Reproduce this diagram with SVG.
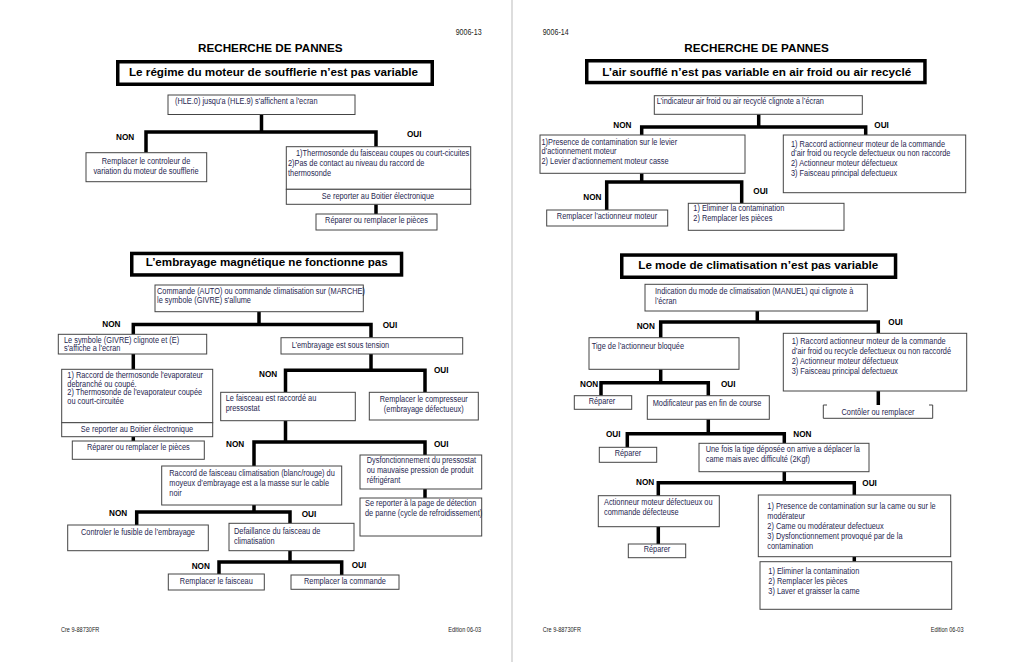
<svg xmlns="http://www.w3.org/2000/svg" width="1024" height="662" viewBox="0 0 1024 662">
<style>
.bg{fill:#fff}
.tb{fill:#fff;stroke:#000;stroke-width:3.5}
.b{fill:#fff;stroke:#444;stroke-width:1}
.c{fill:none;stroke:#000;stroke-width:3.5;stroke-linejoin:miter}
.h{font-family:"Liberation Sans",Arial,sans-serif;font-weight:bold;font-size:11.7px;fill:#000}
.t{font-family:"Liberation Sans",Arial,sans-serif;font-weight:bold;font-size:11.6px;fill:#000}
.x{font-family:"Liberation Sans",Arial,sans-serif;font-size:9px;fill:#262650}
.m{text-anchor:middle}
.l{font-family:"Liberation Sans",Arial,sans-serif;font-weight:bold;font-size:8.2px;fill:#000}
.f{font-family:"Liberation Sans",Arial,sans-serif;font-size:6.8px;fill:#222}
.p{font-family:"Liberation Sans",Arial,sans-serif;font-size:8.6px;fill:#222}
</style>
<rect class="bg" x="0" y="0" width="1024" height="662"/>
<line x1="512" y1="0" x2="512" y2="662" stroke="#bbb" stroke-width="1"/>

<g id="page-left-header">
<text class="p" x="455.7" y="35" transform="matrix(.82 0 0 1 82.026 0)">9006-13</text>
<text class="h" x="198" y="52">RECHERCHE DE PANNES</text>
</g>
<g id="page-right-header">
<text class="p" x="542.7" y="35" transform="matrix(.82 0 0 1 97.686 0)">9006-14</text>
<text class="h" x="684.3" y="52.3">RECHERCHE DE PANNES</text>
</g>
<g id="footers">
<text class="f" x="61" y="632.3" transform="matrix(.82 0 0 1 10.98 0)">Cre 9-88730FR</text>
<text class="f" x="448.3" y="632.3" transform="matrix(.82 0 0 1 80.694 0)">Edition 06-03</text>
<text class="f" x="542.7" y="632.3" transform="matrix(.82 0 0 1 97.686 0)">Cre 9-88730FR</text>
<text class="f" x="930.7" y="632.3" transform="matrix(.82 0 0 1 167.526 0)">Edition 06-03</text>
</g>

<g id="connectors">
<path class="c" d="M261.5 114V132M146 152.7V132H376V146.7"/>
<path class="c" d="M376 204.3V214"/>
<path class="c" d="M259 311.7V324.5M133.3 334.3V324.5H371V337.7"/>
<path class="c" d="M133.3 354V369.3M133.3 436.7V441"/>
<path class="c" d="M371 354V370.3M285.5 392.3V370.3H425V392.3"/>
<path class="c" d="M285.5 420.7V442M254 466V442H425V455"/>
<path class="c" d="M425 489V498"/>
<path class="c" d="M254 505V512M136.7 525V512H290V523.3"/>
<path class="c" d="M290 550.7V562M219 574V562H341.7V575"/>
<path class="c" d="M758.7 114.3V127M641.7 135V127H865.7V135"/>
<path class="c" d="M641.7 173.3V182M606.7 210V182H741.7V203.3"/>
<path class="c" d="M757.3 311V322M660.7 337.7V322H878.3V333.3"/>
<path class="c" d="M878.3 391V405"/>
<path class="c" d="M660.7 369.3V382.7M601 395.7V382.7H708.3V395.7"/>
<path class="c" d="M708.3 419.3V433.7M627.3 447.3V433.7H784.3V443.3"/>
<path class="c" d="M784.3 471.7V482.7M658.3 495.7V482.7H854.3V495"/>
<path class="c" d="M658.3 526.7V544"/>
<path class="c" d="M854.3 556.7V561.7"/>
</g>

<g id="labels">
<text class="l" x="116" y="140">NON</text>
<text class="l" x="407" y="137">OUI</text>
<text class="l" x="102.3" y="327.3">NON</text>
<text class="l" x="382.7" y="327.7">OUI</text>
<text class="l" x="259" y="376.7">NON</text>
<text class="l" x="434" y="373.3">OUI</text>
<text class="l" x="226" y="446.7">NON</text>
<text class="l" x="434" y="447.3">OUI</text>
<text class="l" x="109" y="515.7">NON</text>
<text class="l" x="301.7" y="517.3">OUI</text>
<text class="l" x="191.7" y="569.3">NON</text>
<text class="l" x="351.7" y="568.3">OUI</text>
<text class="l" x="613.3" y="128.3">NON</text>
<text class="l" x="874.3" y="128.3">OUI</text>
<text class="l" x="583.3" y="200">NON</text>
<text class="l" x="753.3" y="194.3">OUI</text>
<text class="l" x="636.7" y="329">NON</text>
<text class="l" x="888.3" y="325">OUI</text>
<text class="l" x="580" y="386.7">NON</text>
<text class="l" x="721" y="386.7">OUI</text>
<text class="l" x="606" y="436.7">OUI</text>
<text class="l" x="793.3" y="436.7">NON</text>
<text class="l" x="636" y="485">NON</text>
<text class="l" x="862.3" y="486">OUI</text>
</g>

<g id="title1">
<rect class="tb" x="117.75" y="61.75" width="314.5" height="22.5"/>
<text class="t" x="129" y="75.7" textLength="289" lengthAdjust="spacingAndGlyphs">Le régime du moteur de soufflerie n’est pas variable</text>
</g>
<g id="n-hle">
<rect class="b" x="168" y="95" width="187" height="19.5"/>
<text class="x" x="175" y="104.5" transform="matrix(.82 0 0 1 31.5 0)">(HLE.0) jusqu'a (HLE.9) s'affichent a l'ecran</text>
</g>
<g id="n-remplacer-controleur">
<rect class="b" x="86" y="152.7" width="120.7" height="29"/>
<text class="x m" x="146" y="164" transform="matrix(.82 0 0 1 26.28 0)">Remplacer le controleur de</text>
<text class="x m" x="146" y="174" transform="matrix(.82 0 0 1 26.28 0)">variation du moteur de soufflerie</text>
</g>
<g id="n-thermosonde">
<rect class="b" x="286.3" y="146.7" width="184.4" height="42.6"/>
<rect class="b" x="286.3" y="189.3" width="184.4" height="15"/>
<text class="x" x="296" y="156" transform="matrix(.82 0 0 1 53.28 0)">1)Thermosonde du faisceau coupes ou court-cicuites</text>
<text class="x" x="288" y="166" transform="matrix(.82 0 0 1 51.84 0)">2)Pas de contact au niveau du raccord de</text>
<text class="x" x="288" y="176" transform="matrix(.82 0 0 1 51.84 0)">thermosonde</text>
<text class="x m" x="378" y="199" transform="matrix(.82 0 0 1 68.04 0)">Se reporter au Boitier électronique</text>
</g>
<g id="n-reparer1">
<rect class="b" x="316" y="214" width="121" height="16"/>
<text class="x m" x="376.5" y="223.5" transform="matrix(.82 0 0 1 67.77 0)">Réparer ou remplacer le pièces</text>
</g>

<g id="title2">
<rect class="tb" x="131.75" y="253.45" width="269.8" height="21.5"/>
<text class="t" x="145.7" y="266.3" textLength="242" lengthAdjust="spacingAndGlyphs">L’embrayage magnétique ne fonctionne pas</text>
</g>
<g id="n-commande">
<rect class="b" x="155" y="285" width="208.3" height="26.7"/>
<text class="x" x="157" y="294" transform="matrix(.82 0 0 1 28.26 0)">Commande (AUTO) ou commande climatisation sur (MARCHE)</text>
<text class="x" x="157" y="303" transform="matrix(.82 0 0 1 28.26 0)">le symbole (GIVRE) s'allume</text>
</g>
<g id="n-symbole">
<rect class="b" x="58.3" y="334.3" width="148.4" height="19.7"/>
<text class="x" x="64" y="343" transform="matrix(.82 0 0 1 11.52 0)">Le symbole (GIVRE) clignote et (E)</text>
<text class="x" x="64" y="351.5" transform="matrix(.82 0 0 1 11.52 0)">s'affiche a l'ecran</text>
</g>
<g id="n-raccord-thermo">
<rect class="b" x="61.7" y="369.3" width="151" height="53.4"/>
<rect class="b" x="61.7" y="422.7" width="151" height="14"/>
<text class="x" x="67.3" y="378" transform="matrix(.82 0 0 1 12.114 0)">1) Raccord de thermosonde l'evaporateur</text>
<text class="x" x="67.3" y="386.7" transform="matrix(.82 0 0 1 12.114 0)">debranché ou coupé.</text>
<text class="x" x="67.3" y="395.3" transform="matrix(.82 0 0 1 12.114 0)">2) Thermosonde de l'evaporateur coupée</text>
<text class="x" x="67.3" y="404" transform="matrix(.82 0 0 1 12.114 0)">ou court-circuitée</text>
<text class="x m" x="137" y="432" transform="matrix(.82 0 0 1 24.66 0)">Se reporter au Boitier électronique</text>
</g>
<g id="n-reparer2">
<rect class="b" x="72.3" y="441" width="132" height="18.3"/>
<text class="x m" x="138.3" y="450" transform="matrix(.82 0 0 1 24.894 0)">Réparer ou remplacer le pièces</text>
</g>
<g id="n-tension">
<rect class="b" x="281" y="337.7" width="181.7" height="16.3"/>
<text class="x" x="291.7" y="348" transform="matrix(.82 0 0 1 52.506 0)">L’embrayage est sous tension</text>
</g>
<g id="n-faisceau-pressostat">
<rect class="b" x="220.7" y="392.3" width="134.6" height="28.4"/>
<text class="x" x="225.7" y="401" transform="matrix(.82 0 0 1 40.626 0)">Le faisceau est raccordé au</text>
<text class="x" x="225.7" y="411" transform="matrix(.82 0 0 1 40.626 0)">pressostat</text>
</g>
<g id="n-compresseur">
<rect class="b" x="369.3" y="392.3" width="109" height="27.7"/>
<text class="x m" x="423.8" y="402" transform="matrix(.82 0 0 1 76.284 0)">Remplacer le compresseur</text>
<text class="x m" x="423.8" y="412" transform="matrix(.82 0 0 1 76.284 0)">(embrayage défectueux)</text>
</g>
<g id="n-raccord-faisceau">
<rect class="b" x="161.7" y="466" width="180" height="39"/>
<text class="x" x="169.3" y="476" transform="matrix(.82 0 0 1 30.474 0)">Raccord de faisceau climatisation (blanc/rouge) du</text>
<text class="x" x="169.3" y="486" transform="matrix(.82 0 0 1 30.474 0)">moyeux d’embrayage est a la masse sur le cable</text>
<text class="x" x="169.3" y="496" transform="matrix(.82 0 0 1 30.474 0)">noir</text>
</g>
<g id="n-dysfonction">
<rect class="b" x="360" y="455" width="121.7" height="34"/>
<text class="x" x="366.7" y="463.5" transform="matrix(.82 0 0 1 66.006 0)">Dysfonctionnement du pressostat</text>
<text class="x" x="366.7" y="473.5" transform="matrix(.82 0 0 1 66.006 0)">ou mauvaise pression de produit</text>
<text class="x" x="366.7" y="483.5" transform="matrix(.82 0 0 1 66.006 0)">réfrigérant</text>
</g>
<g id="n-se-reporter-page">
<rect class="b" x="360" y="498" width="121.7" height="38"/>
<text class="x" x="365" y="506" transform="matrix(.82 0 0 1 65.7 0)">Se reporter à la page de détection</text>
<text class="x" x="365" y="516" transform="matrix(.82 0 0 1 65.7 0)">de panne (cycle de refroidissement)</text>
</g>
<g id="n-fusible">
<rect class="b" x="67.7" y="525" width="140.6" height="25.7"/>
<text class="x m" x="138" y="535" transform="matrix(.82 0 0 1 24.84 0)">Controler le fusible de l’embrayage</text>
</g>
<g id="n-defaillance">
<rect class="b" x="229" y="523.3" width="125" height="27.4"/>
<text class="x" x="234" y="534" transform="matrix(.82 0 0 1 42.12 0)">Defaillance du faisceau de</text>
<text class="x" x="234" y="544" transform="matrix(.82 0 0 1 42.12 0)">climatisation</text>
</g>
<g id="n-remplacer-faisceau">
<rect class="b" x="168.3" y="574" width="96" height="16"/>
<text class="x m" x="216.3" y="584.5" transform="matrix(.82 0 0 1 38.934 0)">Remplacer le faisceau</text>
</g>
<g id="n-remplacer-commande">
<rect class="b" x="291" y="575" width="108" height="14.3"/>
<text class="x m" x="345" y="584.5" transform="matrix(.82 0 0 1 62.1 0)">Remplacer la commande</text>
</g>

<g id="title3">
<rect class="tb" x="586.75" y="60.75" width="338.2" height="21.8"/>
<text class="t" x="602.3" y="76" textLength="309" lengthAdjust="spacingAndGlyphs">L’air soufflé n’est pas variable en air froid ou air recyclé</text>
</g>
<g id="n-indicateur">
<rect class="b" x="654.3" y="95.7" width="208" height="18.6"/>
<text class="x" x="656.7" y="104.5" transform="matrix(.82 0 0 1 118.206 0)">L’indicateur air froid ou air recyclé clignote a l’écran</text>
</g>
<g id="n-presence-levier">
<rect class="b" x="540" y="135" width="205" height="38.3"/>
<text class="x" x="541.5" y="144.7" transform="matrix(.82 0 0 1 97.47 0)">1)Presence de contamination sur le levier</text>
<text class="x" x="541.5" y="153.7" transform="matrix(.82 0 0 1 97.47 0)">d’actionnement moteur</text>
<text class="x" x="541.5" y="163.7" transform="matrix(.82 0 0 1 97.47 0)">2) Levier d’actionnement moteur casse</text>
</g>
<g id="n-raccord-actionneur1">
<rect class="b" x="783.3" y="135" width="182.4" height="57.7"/>
<text class="x" x="791" y="147" transform="matrix(.82 0 0 1 142.38 0)">1) Raccord actionneur moteur de la commande</text>
<text class="x" x="791" y="156.3" transform="matrix(.82 0 0 1 142.38 0)">d’air froid ou recycle defectueux ou non raccorde</text>
<text class="x" x="791" y="166.3" transform="matrix(.82 0 0 1 142.38 0)">2) Actionneur moteur défectueux</text>
<text class="x" x="791" y="176" transform="matrix(.82 0 0 1 142.38 0)">3) Faisceau principal defectueux</text>
</g>
<g id="n-remplacer-actionneur">
<rect class="b" x="546.7" y="210" width="121" height="16"/>
<text class="x m" x="607" y="219.5" transform="matrix(.82 0 0 1 109.26 0)">Remplacer l’actionneur moteur</text>
</g>
<g id="n-eliminer1">
<rect class="b" x="688.3" y="203.3" width="155.7" height="27"/>
<text class="x" x="693.3" y="211.3" transform="matrix(.82 0 0 1 124.794 0)">1) Eliminer la contamination</text>
<text class="x" x="693.3" y="221.3" transform="matrix(.82 0 0 1 124.794 0)">2) Remplacer les pièces</text>
</g>

<g id="title4">
<rect class="tb" x="621.75" y="255.05" width="273.8" height="22.2"/>
<text class="t" x="638.3" y="269.3" textLength="240" lengthAdjust="spacingAndGlyphs">Le mode de climatisation n’est pas variable</text>
</g>
<g id="n-indication-mode">
<rect class="b" x="645" y="284.3" width="222.3" height="26.7"/>
<text class="x" x="655" y="294" transform="matrix(.82 0 0 1 117.9 0)">Indication du mode de climatisation (MANUEL) qui clignote à</text>
<text class="x" x="655" y="304" transform="matrix(.82 0 0 1 117.9 0)">l’écran</text>
</g>
<g id="n-tige">
<rect class="b" x="589" y="337.7" width="150" height="31.6"/>
<text class="x" x="591.7" y="349" transform="matrix(.82 0 0 1 106.506 0)">Tige de l’actionneur bloquée</text>
</g>
<g id="n-raccord-actionneur2">
<rect class="b" x="783.3" y="333.3" width="183.4" height="57.7"/>
<text class="x" x="791.7" y="343.7" transform="matrix(.82 0 0 1 142.506 0)">1) Raccord actionneur moteur de la commande</text>
<text class="x" x="791.7" y="353.7" transform="matrix(.82 0 0 1 142.506 0)">d’air froid ou recycle defectueux ou non raccordé</text>
<text class="x" x="791.7" y="363.7" transform="matrix(.82 0 0 1 142.506 0)">2) Actionneur moteur défectueux</text>
<text class="x" x="791.7" y="373.7" transform="matrix(.82 0 0 1 142.506 0)">3) Faisceau principal defectueux</text>
</g>
<g id="n-controler">
<path class="b" d="M823.3 405V418.3H932.7V405M823.3 405H827M929 405H932.7"/>
<text class="x m" x="878" y="415" transform="matrix(.82 0 0 1 158.04 0)">Contôler ou remplacer</text>
</g>
<g id="n-reparer3">
<rect class="b" x="574.3" y="395.7" width="57.4" height="13.6"/>
<text class="x m" x="602" y="404.5" transform="matrix(.82 0 0 1 108.36 0)">Réparer</text>
</g>
<g id="n-modificateur">
<rect class="b" x="647.3" y="395.7" width="122" height="23.6"/>
<text class="x" x="652.7" y="406" transform="matrix(.82 0 0 1 117.486 0)">Modificateur pas en fin de course</text>
</g>
<g id="n-reparer4">
<rect class="b" x="599.3" y="447.3" width="57.4" height="15"/>
<text class="x m" x="628" y="456.5" transform="matrix(.82 0 0 1 113.04 0)">Réparer</text>
</g>
<g id="n-une-fois">
<rect class="b" x="699" y="443.3" width="170" height="28.4"/>
<text class="x" x="705.7" y="452.3" transform="matrix(.82 0 0 1 127.026 0)">Une fois la tige déposée on arrive a déplacer la</text>
<text class="x" x="705.7" y="462.3" transform="matrix(.82 0 0 1 127.026 0)">came mais avec difficulté (2Kgf)</text>
</g>
<g id="n-actionneur-defectueux">
<rect class="b" x="598.3" y="495.7" width="121" height="31"/>
<text class="x" x="604" y="504.7" transform="matrix(.82 0 0 1 108.72 0)">Actionneur moteur défectueux ou</text>
<text class="x" x="604" y="514.7" transform="matrix(.82 0 0 1 108.72 0)">commande défecteuse</text>
</g>
<g id="n-reparer5">
<rect class="b" x="628.3" y="544" width="57.4" height="13.7"/>
<text class="x m" x="657" y="552.5" transform="matrix(.82 0 0 1 118.26 0)">Réparer</text>
</g>
<g id="n-presence-came">
<rect class="b" x="758.3" y="495" width="192.4" height="61.7"/>
<text class="x" x="767.3" y="509" transform="matrix(.82 0 0 1 138.114 0)">1) Presence de contamination sur la came ou sur le</text>
<text class="x" x="767.3" y="519" transform="matrix(.82 0 0 1 138.114 0)">modérateur</text>
<text class="x" x="767.3" y="529" transform="matrix(.82 0 0 1 138.114 0)">2) Came ou modérateur defectueux</text>
<text class="x" x="767.3" y="539" transform="matrix(.82 0 0 1 138.114 0)">3) Dysfonctionnement provoqué par de la</text>
<text class="x" x="767.3" y="549" transform="matrix(.82 0 0 1 138.114 0)">contamination</text>
</g>
<g id="n-eliminer2">
<rect class="b" x="760" y="561.7" width="191.7" height="47.6"/>
<text class="x" x="768.3" y="574" transform="matrix(.82 0 0 1 138.294 0)">1) Eliminer la contamination</text>
<text class="x" x="768.3" y="584" transform="matrix(.82 0 0 1 138.294 0)">2) Remplacer les pièces</text>
<text class="x" x="768.3" y="594" transform="matrix(.82 0 0 1 138.294 0)">3) Laver et graisser la came</text>
</g>
</svg>
